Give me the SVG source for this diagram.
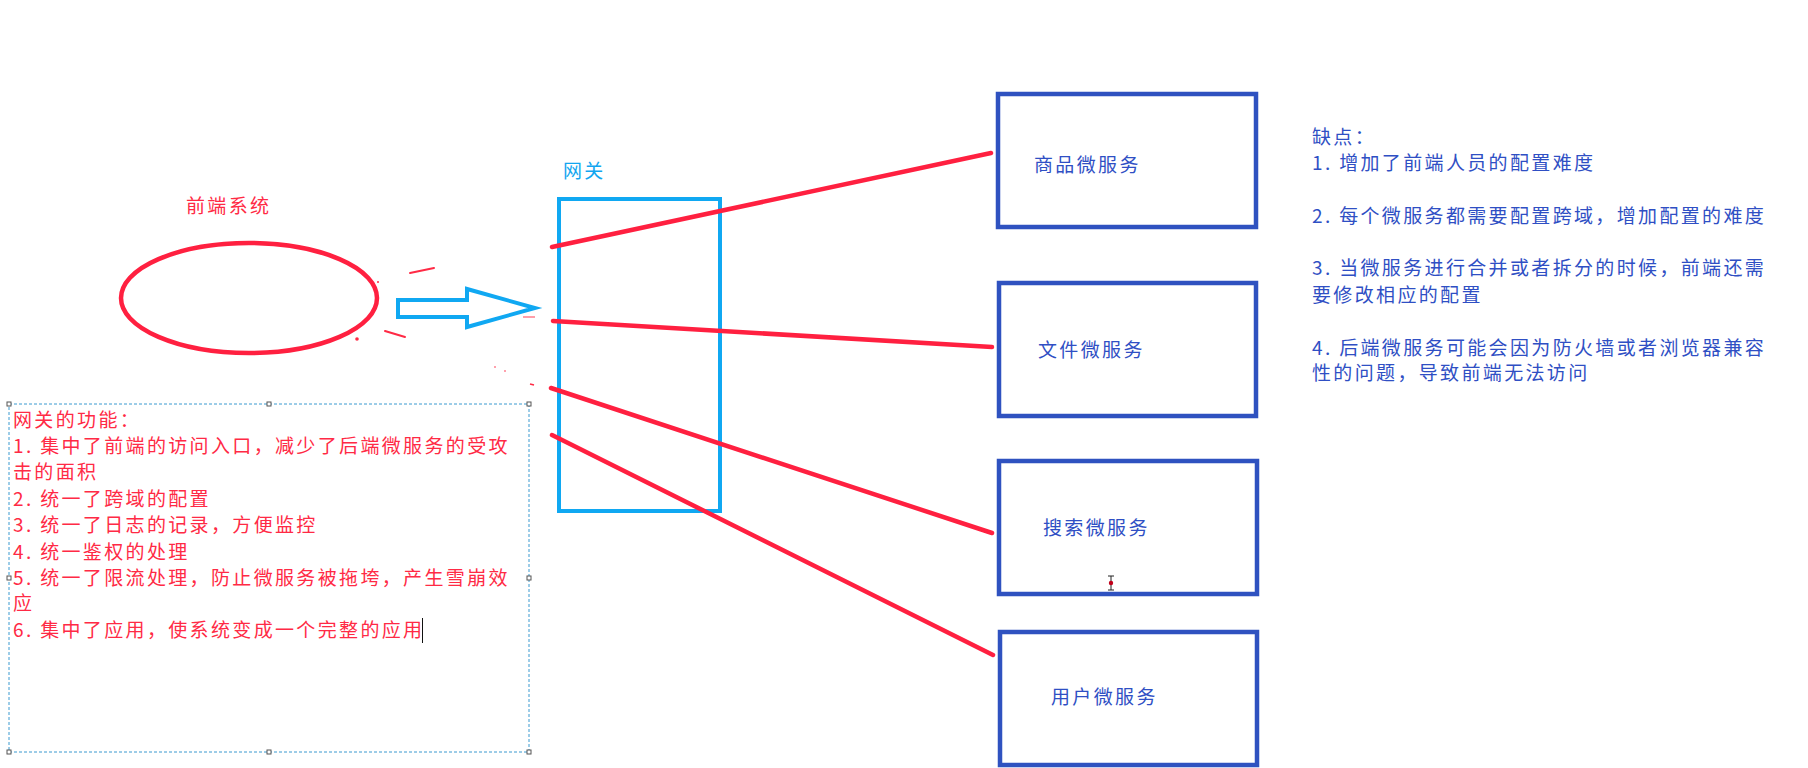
<svg xmlns="http://www.w3.org/2000/svg" width="1808" height="768" viewBox="0 0 1808 768">
<style>
  .cjk { font-family: "Noto Sans CJK SC", "Noto Sans", sans-serif; font-size: 19px; letter-spacing: 2.35px; }
  .red { fill: #ff2a45; }
  .blue { fill: #2f4fc4; }
  .lblue { fill: #12a6f0; }
  .conn { stroke: #ff2040; stroke-width: 4.5; stroke-linecap: round; fill: none; }
  .svc { fill: #ffffff; stroke: #2f52c0; stroke-width: 4.5; }
  .frag { stroke: #ff2a45; stroke-width: 2; stroke-linecap: round; fill: none; }
  .handle { fill: #ffffff; stroke: #555555; stroke-width: 1; }
</style>
<rect width="1808" height="768" fill="#ffffff"/>

<g id="frontend">
  <ellipse cx="249" cy="298" rx="128" ry="55" fill="none" stroke="#ff2040" stroke-width="4.5"/>
  <text class="cjk red" x="186" y="213" font-size="18">前端系统</text>
</g>

<g id="fragments">
  <line class="frag" x1="410" y1="273" x2="434" y2="268"/>
  <line class="frag" x1="385" y1="331" x2="405" y2="337"/>
  <circle cx="357" cy="339" r="1.8" fill="#ff2a45"/>
  <circle cx="378" cy="282" r="1" fill="#ff2a45"/>
  <line x1="523" y1="317" x2="535" y2="317" stroke="#ff6070" stroke-width="1.2"/>
  <circle cx="495" cy="367" r="0.8" fill="#ff2a45"/>
  <circle cx="505" cy="371" r="0.8" fill="#ff2a45"/>
  <line x1="530" y1="384" x2="534" y2="385" stroke="#ff2a45" stroke-width="1.5"/>
</g>

<g id="gateway">
  <text class="cjk lblue" x="563" y="178" font-size="18">网关</text>
  <rect x="559" y="199" width="161" height="312" fill="none" stroke="#10a8f2" stroke-width="4"/>
</g>

<g id="connectors">
  <polygon points="398,300 467,300 467,289 535,308 467,327 467,317 398,317" fill="none" stroke="#10a8f2" stroke-width="4" stroke-linejoin="miter"/>
  <line class="conn" x1="552" y1="247" x2="991" y2="153"/>
  <line class="conn" x1="553" y1="321" x2="992" y2="347"/>
  <line class="conn" x1="551" y1="388" x2="992" y2="533"/>
  <line class="conn" x1="552" y1="435" x2="993" y2="655"/>
</g>

<g id="svc-goods">
  <rect class="svc" x="998" y="94" width="258" height="133"/>
  <text class="cjk blue" x="1034" y="172" letter-spacing="2">商品微服务</text>
</g>
<g id="svc-file">
  <rect class="svc" x="999" y="283" width="257" height="133"/>
  <text class="cjk blue" x="1038" y="357" letter-spacing="2">文件微服务</text>
</g>
<g id="svc-search">
  <rect class="svc" x="999" y="461" width="258" height="133"/>
  <text class="cjk blue" x="1043" y="535" letter-spacing="2">搜索微服务</text>
  <g id="ibeam" stroke="#222222" stroke-width="1" fill="none">
    <line x1="1111" y1="576" x2="1111" y2="590"/>
    <line x1="1108" y1="576" x2="1114" y2="576"/>
    <line x1="1108" y1="590" x2="1114" y2="590"/>
  </g>
  <circle cx="1111" cy="583" r="2.2" fill="#c0001a"/>
</g>
<g id="svc-user">
  <rect class="svc" x="1000" y="632" width="257" height="133"/>
  <text class="cjk blue" x="1051" y="704" letter-spacing="2">用户微服务</text>
</g>

<g id="drawbacks">
  <text class="cjk blue" x="1312" y="144">缺点：</text>
  <text class="cjk blue" x="1312" y="170">1. 增加了前端人员的配置难度</text>
  <text class="cjk blue" x="1312" y="223">2. 每个微服务都需要配置跨域，增加配置的难度</text>
  <text class="cjk blue" x="1312" y="275">3. 当微服务进行合并或者拆分的时候，前端还需</text>
  <text class="cjk blue" x="1312" y="302">要修改相应的配置</text>
  <text class="cjk blue" x="1312" y="355">4. 后端微服务可能会因为防火墙或者浏览器兼容</text>
  <text class="cjk blue" x="1312" y="380">性的问题，导致前端无法访问</text>
</g>

<g id="functions">
  <rect x="9" y="404" width="520" height="348" fill="none" stroke="#3a9ad0" stroke-width="1" stroke-dasharray="3 2"/>
  <rect class="handle" x="7" y="402" width="4" height="4"/>
  <rect class="handle" x="267" y="402" width="4" height="4"/>
  <rect class="handle" x="527" y="402" width="4" height="4"/>
  <rect class="handle" x="7" y="576" width="4" height="4"/>
  <rect class="handle" x="527" y="576" width="4" height="4"/>
  <rect class="handle" x="7" y="750" width="4" height="4"/>
  <rect class="handle" x="267" y="750" width="4" height="4"/>
  <rect class="handle" x="527" y="750" width="4" height="4"/>
  <text class="cjk red" x="13" y="427">网关的功能：</text>
  <text class="cjk red" x="13" y="453">1. 集中了前端的访问入口，减少了后端微服务的受攻</text>
  <text class="cjk red" x="13" y="479">击的面积</text>
  <text class="cjk red" x="13" y="506">2. 统一了跨域的配置</text>
  <text class="cjk red" x="13" y="532">3. 统一了日志的记录，方便监控</text>
  <text class="cjk red" x="13" y="559">4. 统一鉴权的处理</text>
  <text class="cjk red" x="13" y="585">5. 统一了限流处理，防止微服务被拖垮，产生雪崩效</text>
  <text class="cjk red" x="13" y="610">应</text>
  <text class="cjk red" x="13" y="637">6. 集中了应用，使系统变成一个完整的应用</text>
  <line x1="422.5" y1="618" x2="422.5" y2="643" stroke="#111111" stroke-width="1"/>
</g>
</svg>
